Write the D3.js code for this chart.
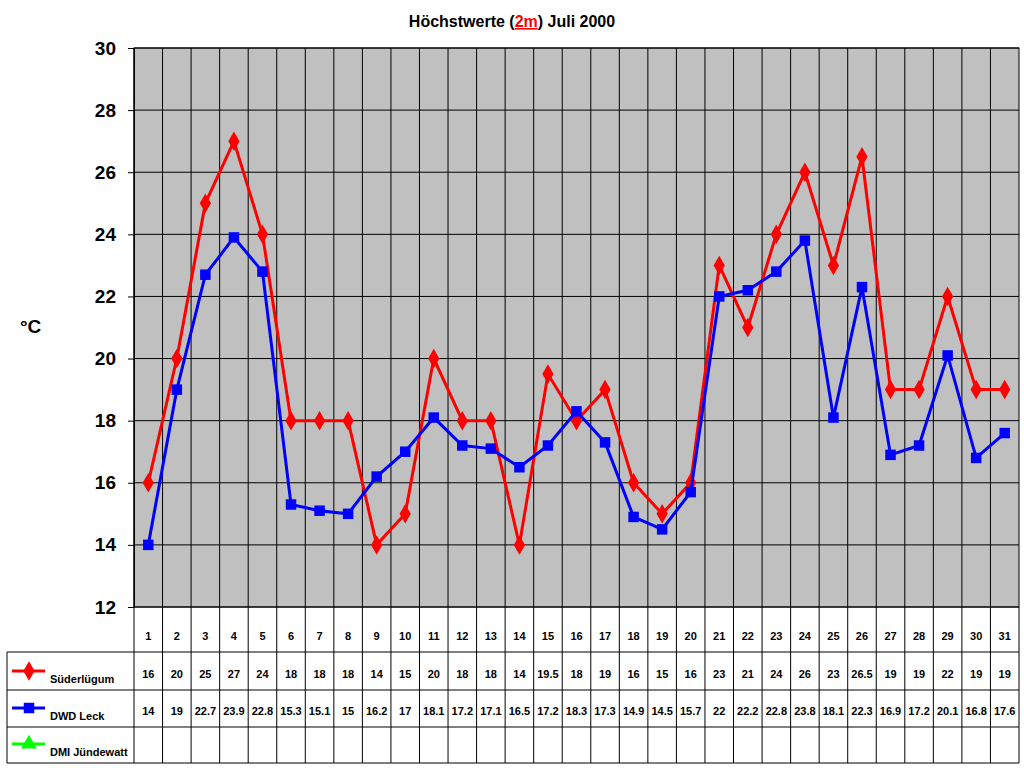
<!DOCTYPE html><html><head><meta charset="utf-8">
<script src="https://cdn.jsdelivr.net/npm/d3@7"></script>
<style>body{margin:0;background:#fff}text{font-family:Arial,"Liberation Sans",sans-serif;font-weight:bold}</style>
</head><body><svg id="c" width="1024" height="768"></svg><script>
const days = d3.range(1,32);
const suederluegum = [16,20,25,27,24,18,18,18,14,15,20,18,18,14,19.5,18,19,16,15,16,23,21,24,26,23,26.5,19,19,22,19,19];
const dwdLeck = [14,19,22.7,23.9,22.8,15.3,15.1,15,16.2,17,18.1,17.2,17.1,16.5,17.2,18.3,17.3,14.9,14.5,15.7,22,22.2,22.8,23.8,18.1,22.3,16.9,17.2,20.1,16.8,17.6];
const dmi = [];
const yTicks = [12,14,16,18,20,22,24,26,28,30];
const series = [
 {name:"Süderlügum", values:suederluegum, color:"#ff0000", sym:d3.symbolDiamond},
 {name:"DWD Leck", values:dwdLeck, color:"#0000ff", sym:d3.symbolSquare},
 {name:"DMI Jündewatt", values:dmi, color:"#00ff00", sym:d3.symbolTriangle}];
const svg = d3.select("#c");
const L=134,R=1019,T=48,B=607;
const x = d3.scaleBand().domain(days).range([L,R]);
const y = d3.scaleLinear().domain([12,30]).range([B,T]);
svg.append("rect").attr("x",L).attr("y",T).attr("width",R-L).attr("height",B-T).attr("fill","#c0c0c0").attr("stroke","#000");
days.forEach(d=>svg.append("line").attr("x1",x(d)).attr("x2",x(d)).attr("y1",T).attr("y2",B).attr("stroke","#000"));
yTicks.forEach(t=>svg.append("line").attr("x1",L).attr("x2",R).attr("y1",y(t)).attr("y2",y(t)).attr("stroke","#000"));
const ya = svg.append("g").attr("transform",`translate(${L},0)`).call(d3.axisLeft(y).tickValues(yTicks).tickSize(6).tickPadding(12));
ya.select(".domain").attr("stroke","#000");
ya.selectAll("text").attr("font-size",19).attr("font-family","Arial").attr("font-weight","bold").attr("fill","#000");
svg.append("text").attr("x",20).attr("y",333).attr("font-size",19).text("°C");
const t = svg.append("text").attr("x",512).attr("y",27).attr("text-anchor","middle").attr("font-size",16);
t.append("tspan").text("Höchstwerte (");
t.append("tspan").attr("fill","#ff0000").attr("text-decoration","underline").text("2m");
t.append("tspan").text(") Juli 2000");
// table
const rows=[607,652,690,727,763];
svg.append("g").selectAll("line").data(days.concat([32])).join("line")
 .attr("x1",d=>d<32?x(d):R).attr("x2",d=>d<32?x(d):R).attr("y1",B).attr("y2",763).attr("stroke","#000");
[652,690,727,763].forEach(r=>svg.append("line").attr("x1",7).attr("x2",R).attr("y1",r).attr("y2",r).attr("stroke","#000"));
svg.append("line").attr("x1",7).attr("x2",7).attr("y1",652).attr("y2",763).attr("stroke","#000");
days.forEach(d=>svg.append("text").attr("x",x(d)+x.bandwidth()/2).attr("y",640).attr("text-anchor","middle").attr("font-size",11).text(d));
const line = d3.line().x((v,i)=>x(days[i])+x.bandwidth()/2).y(v=>y(v));
series.forEach((s,k)=>{
  const ry = rows[k+1], rb=rows[k+2];
  days.forEach((d,i)=>{ if(s.values[i]!==undefined) svg.append("text").attr("x",x(d)+x.bandwidth()/2).attr("y",rb-12).attr("text-anchor","middle").attr("font-size",11).text(s.values[i]);});
  svg.append("line").attr("x1",12).attr("x2",45).attr("y1",rb-19).attr("y2",rb-19).attr("stroke",s.color).attr("stroke-width",3);
  svg.append("path").attr("d",d3.symbol(s.sym,k==0?110:110)()).attr("transform",`translate(29,${rb-19})`).attr("fill",s.color);
  svg.append("text").attr("x",50).attr("y",rb-7).attr("font-size",11).text(s.name);
  if(s.values.length){
    svg.append("path").attr("d",line(s.values)).attr("fill","none").attr("stroke",s.color).attr("stroke-width",3);
    svg.append("g").selectAll("path").data(s.values).join("path").attr("d",d3.symbol(s.sym,110)())
      .attr("transform",(v,i)=>`translate(${x(days[i])+x.bandwidth()/2},${y(v)})`).attr("fill",s.color);
  }
});
</script></body></html>
